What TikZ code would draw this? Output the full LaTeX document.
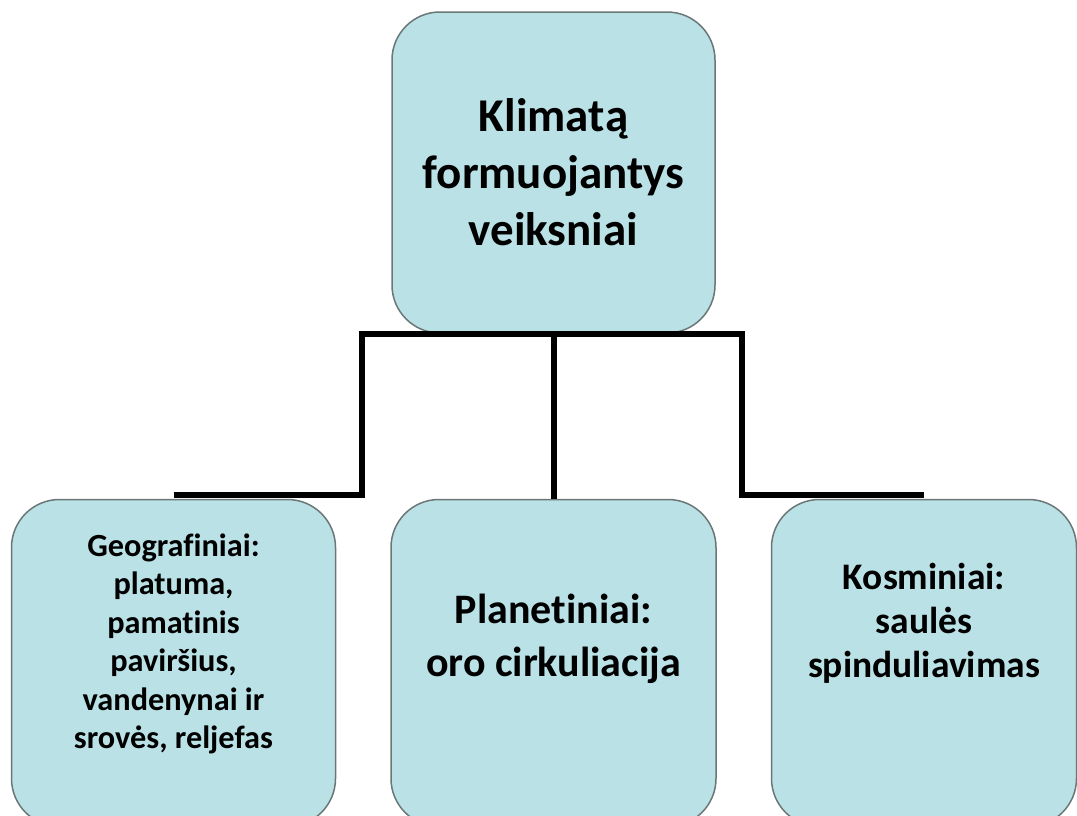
\documentclass[tikz,border=0pt]{standalone}
\usepackage{fontspec}
\setmainfont{Carlito}[Ligatures=CommonOff]
\usetikzlibrary{positioning}
\definecolor{boxBlue}{HTML}{B9E1E6}
\definecolor{boxEdge}{HTML}{6B7676}
% extra depth under the last line, so the text sits higher in its box
\newcommand{\boxlift}[1]{\rule[-#1pt]{0pt}{0pt}}
\begin{document}
\begin{tikzpicture}[x=1pt,y=-1pt,node distance=165pt and 54pt,
  box/.style={draw=boxEdge,line width=1.5pt,fill=boxBlue,rounded corners=48pt,align=center,inner sep=0pt},
  link/.style={line width=6pt}]
\useasboundingbox (0,0) rectangle (1077,815);
\clip (0,0) rectangle (1077,815);
\node[box,minimum width=323pt,minimum height=321pt,font=\bfseries\fontsize{47}{57}\selectfont] (top) at (553.5,172.5) {Klimatą\\formuojantys\\veiksniai};
\node[box,minimum width=325pt,minimum height=327pt,below=of top,font=\bfseries\fontsize{42}{53}\selectfont] (plan) {Planetiniai:\\oro cirkuliacija\boxlift{55}};
\node[box,minimum width=324pt,minimum height=327pt,left=of plan,font=\bfseries\fontsize{32.3}{38.5}\selectfont] (geo) {Geografiniai:\\platuma,\\pamatinis\\paviršius,\\vandenynai ir\\srovės, reljefas\boxlift{44}};
\node[box,minimum width=305pt,minimum height=327pt,right=of plan,font=\bfseries\fontsize{37.5}{44}\selectfont] (kos) {Kosminiai:\\saulės\\spinduliavimas\boxlift{85}};
\coordinate (splitL) at ([xshift=-29pt]top.south west);
\coordinate (splitR) at ([xshift=26pt]top.south east);
\draw[link] ([yshift=4pt]geo.north) -| (splitL) -- (splitR) |- ([yshift=4pt]kos.north);
\draw[link] (top.south) -- (plan.north);
\end{tikzpicture}
\end{document}
